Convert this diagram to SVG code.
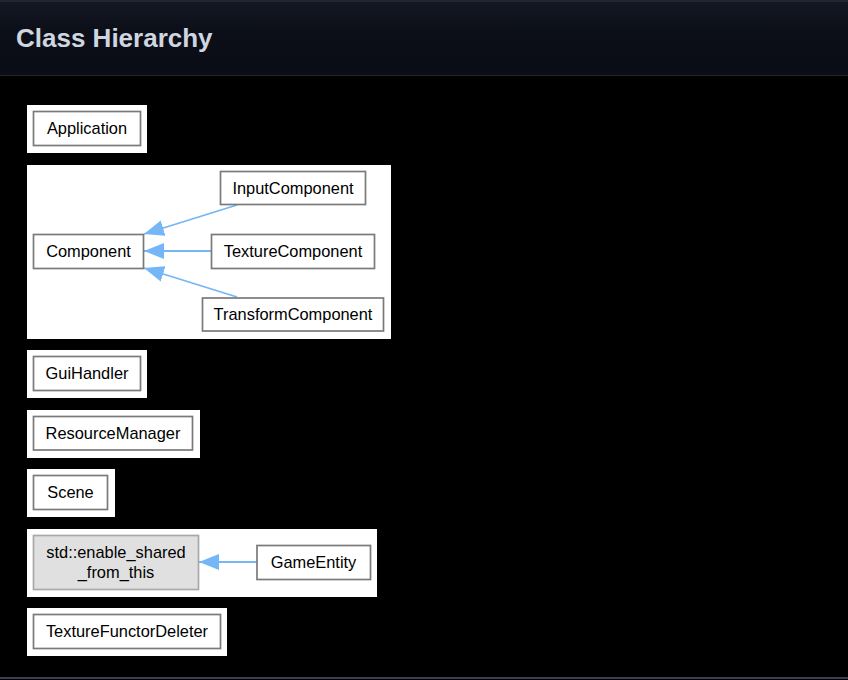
<svg xmlns="http://www.w3.org/2000/svg" width="848" height="680" viewBox="0 0 848 680">
<defs>
<linearGradient id="hdr" x1="0" y1="0" x2="0" y2="1">
<stop offset="0" stop-color="#141824"/>
<stop offset="0.4" stop-color="#0c0f18"/>
<stop offset="1" stop-color="#0a0d15"/>
</linearGradient>
<marker id="ah" viewBox="0 0 20 16" refX="20" refY="8" markerWidth="20" markerHeight="16" markerUnits="userSpaceOnUse" orient="auto">
<path d="M0,0 L20,8 L0,16 Z" fill="#74b6f6"/>
</marker>
<style>
.panel{fill:#ffffff}
.node{fill:#ffffff;stroke:#7a7a7a;stroke-width:1.7}
.ext{fill:#e0e0e0;stroke:#a8a8a8;stroke-width:1.7}
.lbl{font-family:"Liberation Sans",Arial,sans-serif;font-size:16.4px;fill:#000;text-anchor:middle}
.edge{stroke:#74b6f6;stroke-width:1.8;fill:none;marker-end:url(#ah)}
</style>
</defs>
<rect x="0" y="0" width="848" height="680" fill="#000"/>
<rect x="0" y="2" width="848" height="73" fill="url(#hdr)"/>
<rect x="0" y="0" width="848" height="2" fill="#22262f"/>
<rect x="0" y="75" width="848" height="1" fill="#23262e"/>
<rect x="0" y="677" width="848" height="2" fill="#3a3f55"/>
<text x="16" y="47" font-family="Liberation Sans,Arial,sans-serif" font-weight="bold" font-size="26" fill="#cfd6e0">Class Hierarchy</text>

<rect class="panel" x="27" y="105" width="120" height="48"/>
<rect class="panel" x="27" y="165" width="364" height="174"/>
<rect class="panel" x="27" y="350" width="120" height="48"/>
<rect class="panel" x="27" y="410" width="173" height="48"/>
<rect class="panel" x="27" y="469" width="88" height="48"/>
<rect class="panel" x="27" y="529" width="350" height="68"/>
<rect class="panel" x="27" y="608" width="200" height="48"/>

<g id="connectors">
<line class="edge" x1="237" y1="205" x2="144" y2="234"/>
<line class="edge" x1="211" y1="251" x2="144" y2="251"/>
<line class="edge" x1="237" y1="297" x2="144" y2="268"/>
<line class="edge" x1="257" y1="562" x2="199" y2="562"/>
</g>

<g id="Application"><rect class="node" x="33.5" y="111.5" width="107" height="34"/><text class="lbl" x="87" y="134">Application</text></g>
<g id="Component"><rect class="node" x="33.5" y="234.5" width="110" height="34"/><text class="lbl" x="88.5" y="257">Component</text></g>
<g id="InputComponent"><rect class="node" x="220.5" y="171.5" width="145" height="33"/><text class="lbl" x="293" y="194">InputComponent</text></g>
<g id="TextureComponent"><rect class="node" x="211.5" y="234.5" width="163" height="34"/><text class="lbl" x="293" y="257">TextureComponent</text></g>
<g id="TransformComponent"><rect class="node" x="202.5" y="298" width="181" height="33"/><text class="lbl" x="293" y="320">TransformComponent</text></g>
<g id="GuiHandler"><rect class="node" x="33.5" y="356.5" width="107" height="34"/><text class="lbl" x="87" y="379">GuiHandler</text></g>
<g id="ResourceManager"><rect class="node" x="33.5" y="416.5" width="159" height="33.5"/><text class="lbl" x="113" y="439">ResourceManager</text></g>
<g id="Scene"><rect class="node" x="33.5" y="475.5" width="74" height="34"/><text class="lbl" x="70.5" y="498">Scene</text></g>
<g id="enable_shared_from_this"><rect class="ext" x="33.5" y="535.5" width="165" height="54"/><text class="lbl" x="116" y="558">std::enable_shared</text><text class="lbl" x="116" y="578">_from_this</text></g>
<g id="GameEntity"><rect class="node" x="257" y="545.5" width="113.5" height="34"/><text class="lbl" x="313.5" y="568">GameEntity</text></g>
<g id="TextureFunctorDeleter"><rect class="node" x="33.5" y="614.5" width="187" height="34"/><text class="lbl" x="127" y="637">TextureFunctorDeleter</text></g>
</svg>
